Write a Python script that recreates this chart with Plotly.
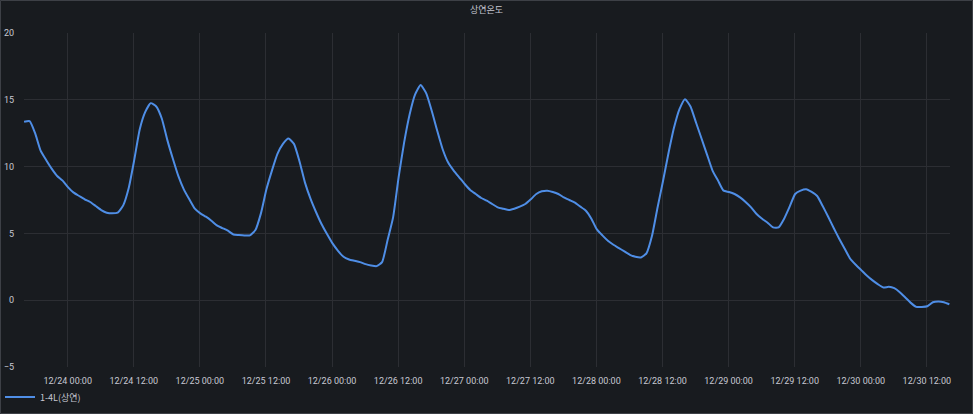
import pandas as pd
import plotly.graph_objects as go

# Hourly readings of the 1-4L(상연) temperature sensor
start_time = "2023-12-23 16:05"
temps = [
    13.35, 13.4, 12.5, 11.2, 10.5, 9.85, 9.3, 8.95,          # 12/23 16:05 .. 23:05
    8.45, 8.05, 7.8, 7.55, 7.35, 7.05, 6.75, 6.55, 6.5, 6.55, 7.1, 8.4,   # 12/24 00-11
    10.5, 12.8, 14.1, 14.75, 14.5, 13.6, 12.0, 10.6, 9.3, 8.3, 7.55, 6.85,  # 12/24 12-23
    6.5, 6.25, 5.95, 5.6, 5.4, 5.2, 4.92, 4.88, 4.85, 4.85, 5.25, 6.5,      # 12/25 00-11
    8.3, 9.7, 10.95, 11.7, 12.1, 11.7, 10.4, 8.8, 7.6, 6.6, 5.7, 4.95,      # 12/25 12-23
    4.25, 3.7, 3.25, 3.05, 2.95, 2.85, 2.7, 2.6, 2.55, 2.85, 4.5, 6.2,      # 12/26 00-11
    9.2, 11.8, 13.9, 15.4, 16.1, 15.5, 14.2, 12.7, 11.3, 10.3, 9.7, 9.2,    # 12/26 12-23
    8.7, 8.25, 7.95, 7.65, 7.45, 7.2, 6.95, 6.85, 6.75, 6.85, 7.0, 7.2,     # 12/27 00-11
    7.55, 7.95, 8.15, 8.2, 8.1, 7.95, 7.7, 7.5, 7.3, 7.0, 6.7, 6.1,         # 12/27 12-23
    5.3, 4.85, 4.45, 4.15, 3.9, 3.65, 3.4, 3.25, 3.2, 3.5, 4.8, 6.9,        # 12/28 00-11
    8.9, 11.0, 12.9, 14.3, 15.05, 14.5, 13.3, 12.1, 10.9, 9.7, 8.95, 8.2,   # 12/28 12-23
    8.1, 7.95, 7.7, 7.35, 6.95, 6.45, 6.1, 5.8, 5.45, 5.45, 6.1, 7.0,       # 12/29 00-11
    7.95, 8.2, 8.3, 8.1, 7.8, 7.05, 6.25, 5.4, 4.6, 3.85, 3.1, 2.65,        # 12/29 12-23
    2.25, 1.85, 1.5, 1.2, 0.95, 1.0, 0.9, 0.6, 0.2, -0.2, -0.5, -0.5,       # 12/30 00-11
    -0.45, -0.15, -0.1, -0.15, -0.3,                                         # 12/30 12-16
]
times = pd.date_range(start_time, periods=len(temps), freq="h")

series_name = "1-4L(상연)"
chart_title = "상연온도"
y_ticks = [-5, 0, 5, 10, 15, 20]

BG = "#181b1f"
GRID = "#2c2e33"
TXT = "#c7c8d2"
LINE = "#4f8ee6"
TICKFONT = "Roboto, Inter, sans-serif"
KFONT = "'Noto Sans CJK KR', Roboto, sans-serif"

fig = go.Figure()
fig.add_trace(go.Scatter(
    x=times, y=temps, mode="lines", name=series_name,
    line=dict(color=LINE, width=2, shape="spline", smoothing=0.5),
    showlegend=True,
))

fig.update_layout(
    width=973, height=414,
    paper_bgcolor=BG, plot_bgcolor=BG,
    margin=dict(l=24, r=23, t=33, b=47, autoexpand=False),
    font=dict(family=TICKFONT, size=9, color=TXT),
    title=dict(text=chart_title, x=0.5, xanchor="center", xref="container",
               y=(414 - 10) / 414, yanchor="middle", yref="container",
               font=dict(family=KFONT, size=9, color=TXT)),
    xaxis=dict(
        range=["2023-12-23 16:04", "2023-12-30 16:12"],
        tick0="2023-12-24 00:00", dtick=12 * 3600 * 1000,
        tickformat="%m/%d %H:%M",
        showgrid=True, gridcolor=GRID, gridwidth=1,
        zeroline=False, showline=False, ticks="",
        tickfont=dict(family=TICKFONT, size=9, color=TXT), ticklabelstandoff=7,
        automargin=False,
    ),
    yaxis=dict(
        range=[-5, 20], tickvals=y_ticks,
        showgrid=True, gridcolor=GRID, gridwidth=1,
        zeroline=False, showline=False, ticks="",
        tickfont=dict(family=TICKFONT, size=9, color=TXT), ticklabelstandoff=9,
        automargin=False,
    ),
    legend=dict(
        orientation="h", xref="container", yref="container",
        x=0, xanchor="left", y=(414 - 397) / 414, yanchor="middle",
        font=dict(family=KFONT, size=9, color=TXT),
        bgcolor="rgba(0,0,0,0)", itemwidth=30,
    ),
    shapes=[dict(
        type="rect", xref="paper", yref="paper",
        x0=(0.5 - 24) / 926, x1=(972.5 - 24) / 926,
        y0=(367 - 413.5) / 334, y1=(367 - 0.5) / 334,
        line=dict(color="#3d4046", width=1), fillcolor="rgba(0,0,0,0)", layer="below",
    )],
)

fig.write_html("out.html", config={"displayModeBar": False},
               post_script="document.body.style.margin='0';")
